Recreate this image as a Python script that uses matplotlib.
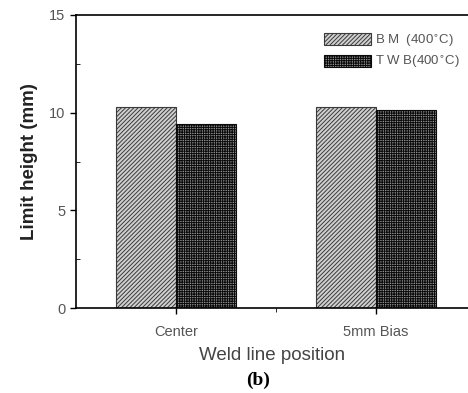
import matplotlib.pyplot as plt
import numpy as np

categories = ["Center", "5mm Bias"]
bm_vals = [10.3, 10.3]
twb_vals = [9.4, 10.15]
labels = ["B M  (400$^{\\circ}$C)", "T W B(400$^{\\circ}$C)"]

plt.rcParams['font.family'] = ['Liberation Sans', 'DejaVu Sans']
plt.rcParams['hatch.linewidth'] = 0.7

fig = plt.figure(figsize=(4.68, 3.93), dpi=100)
ax = fig.add_axes([0.162, 0.216, 0.838, 0.746])

x = np.arange(1, len(categories) + 1)
width = 0.3
ax.bar(x - width / 2, bm_vals, width=width, facecolor="#d0d0d0",
       edgecolor="#3a3a3a", hatch="////////", linewidth=0.8, label=labels[0])
ax.bar(x + width / 2, twb_vals, width=width, facecolor="#909090",
       edgecolor="#0a0a0a", hatch="+++++++", linewidth=0.8, label=labels[1])

ax.set_xlim(0.5, 2.46)
ax.set_ylim(0, 15)
ax.set_yticks([0, 5, 10, 15])
ax.set_yticks([2.5, 7.5, 12.5], minor=True)
ax.set_xticks(x)
ax.set_xticklabels(categories)
ax.set_xticks([1.5], minor=True)

ax.spines['right'].set_visible(False)
for s in ax.spines.values():
    s.set_linewidth(1.2)
ax.tick_params(axis='both', which='major', direction='out', length=4,
               labelsize=10.5, labelcolor="#555555", width=1)
ax.tick_params(axis='y', which='minor', direction='in', length=3)
ax.tick_params(axis='x', which='minor', direction='out', length=3)
ax.tick_params(axis='x', which='major', pad=8)

ax.set_ylabel("Limit height (mm)", fontsize=13.5, fontweight='bold',
              color="#222222", labelpad=8)
ax.set_xlabel("Weld line position", fontsize=13.5, color="#444444", labelpad=6)
fig.text(0.551, 0.02, "(b)", fontsize=14, fontweight='bold',
         family='Liberation Serif', ha='center')

leg = ax.legend(loc='upper right', frameon=False, fontsize=9.5,
                handlelength=3.6, handleheight=1.0, handletextpad=0.3,
                labelspacing=0.4, bbox_to_anchor=(1.01, 0.98))
for t in leg.get_texts():
    t.set_color("#555555")

fig.savefig("out.png", dpi=100)
